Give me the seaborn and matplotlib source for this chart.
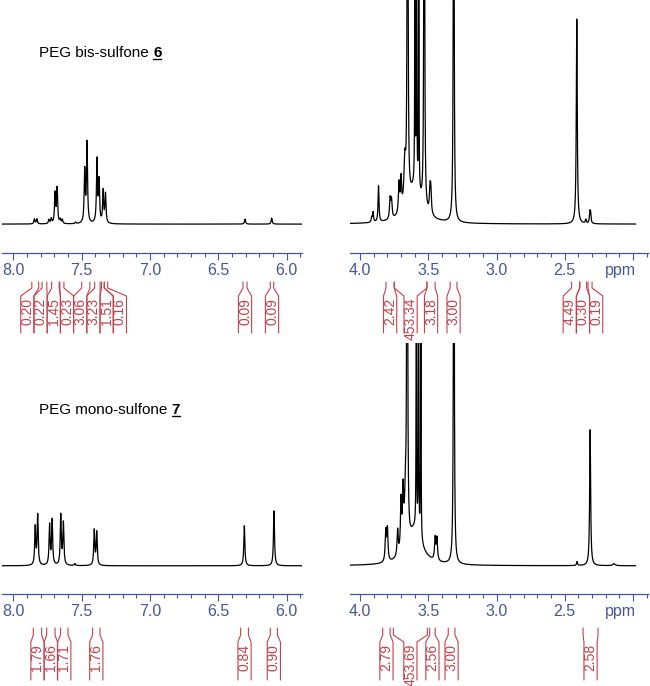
import numpy as np
import pandas as pd
import seaborn as sns
import matplotlib.pyplot as plt
from matplotlib.ticker import MultipleLocator, FuncFormatter
from matplotlib.lines import Line2D

# ---- peaks: shift (ppm), height (px over baseline), half width (ppm)
bis_arom_shift = [7.846, 7.828, 7.740, 7.723, 7.695, 7.680, 7.657, 7.642, 7.545,
                  7.478, 7.461, 7.388, 7.373, 7.343, 7.326, 6.305, 6.110]
bis_arom_height = [5, 5, 4, 5, 30, 35, 4, 4, 1.5, 52, 80, 63, 41, 32, 29, 5, 6]
bis_arom_width = [0.0045] * 17

bis_alk_shift = [3.915, 3.905, 3.865, 3.780, 3.770, 3.715, 3.700, 3.672, 3.652,
                 3.598, 3.586, 3.570, 3.530, 3.600, 3.488, 3.482,
                 3.314, 2.412, 2.346, 2.316, 2.311]
bis_alk_height = [5, 10, 36, 20, 18, 30, 32, 45, 900, 420, 400, 380, 800,
                  35, 22, 22, 600, 205, 4, 10, 9]
bis_alk_width = [0.004, 0.004, 0.004, 0.005, 0.005, 0.005, 0.005, 0.008, 0.0025,
                 0.0015, 0.0015, 0.0015, 0.0025, 0.06, 0.005, 0.005,
                 0.003, 0.0042, 0.004, 0.004, 0.004]

mono_arom_shift = [7.840, 7.822, 7.735, 7.716, 7.653, 7.634, 7.550, 7.408, 7.390,
                   6.310, 6.093]
mono_arom_height = [38, 50, 40, 45, 50, 42, 2, 35, 33, 40, 55]
mono_arom_width = [0.0045] * 11

mono_alk_shift = [3.812, 3.800, 3.725, 3.700, 3.685, 3.668, 3.655, 3.588, 3.572,
                  3.555, 3.600, 3.450, 3.437, 3.313, 2.410, 2.314, 2.140]
mono_alk_height = [30, 32, 26, 50, 55, 45, 900, 420, 400, 400, 35, 22, 22,
                   600, 4, 136, 2]
mono_alk_width = [0.005, 0.005, 0.005, 0.005, 0.005, 0.008, 0.0025, 0.0015, 0.0015,
                  0.0015, 0.06, 0.005, 0.005, 0.003, 0.004, 0.0042, 0.01]

# ---- integrals: region start / end (ppm) and value
bis_arom_int_from = [7.865, 7.790, 7.720, 7.660, 7.500, 7.405, 7.355, 7.335, 6.320, 6.120]
bis_arom_int_to = [7.815, 7.755, 7.665, 7.630, 7.440, 7.365, 7.335, 7.310, 6.290, 6.095]
bis_arom_int_label = ["0.20", "0.22", "1.45", "0.23", "3.06", "3.23", "1.51", "0.16",
                      "0.09", "0.09"]

bis_alk_int_from = [3.81, 3.75, 3.51, 3.34, 2.45, 2.39, 2.33]
bis_alk_int_to = [3.75, 3.51, 3.45, 3.29, 2.39, 2.34, 2.30]
bis_alk_int_label = ["2.42", "453.34", "3.18", "3.00", "4.49", "0.30", "0.19"]

mono_arom_int_from = [7.854, 7.756, 7.655, 7.420, 6.337, 6.120]
mono_arom_int_to = [7.793, 7.695, 7.600, 7.366, 6.280, 6.068]
mono_arom_int_label = ["1.79", "1.66", "1.71", "1.76", "0.84", "0.90"]

mono_alk_int_from = [3.834, 3.756, 3.490, 3.354, 2.366]
mono_alk_int_to = [3.780, 3.507, 3.450, 3.305, 2.256]
mono_alk_int_label = ["2.79", "453.69", "2.56", "3.00", "2.58"]

W, H = 650, 686
BLUE = "#46559a"
RED = "#c4424b"
GAP = 13.2 / 136.5  # label box width in ppm

sns.set_style("ticks")
plt.rcParams["font.family"] = ["Liberation Sans", "DejaVu Sans"]

fig = plt.figure(figsize=(W / 100, H / 100), dpi=100)


def spectrum(shift, height, width, hi, lo):
    x = np.linspace(hi, lo, 9000)
    y = np.zeros_like(x)
    for s, h, w in zip(shift, height, width):
        y += h * w ** 2 / ((x - s) ** 2 + w ** 2)
    return pd.DataFrame({"ppm": x, "intensity": y})


def spread(mids):
    # push label boxes apart so they do not overlap (left to right = falling ppm)
    order = np.argsort(-np.array(mids))
    pos = [-mids[i] for i in order]
    blocks = []
    for p in pos:
        blocks.append([p, [p]])
        while len(blocks) > 1:
            s0, m0 = blocks[-2]
            s1, m1 = blocks[-1]
            if s0 + len(m0) * GAP > s1 + 1e-9:
                m = m0 + m1
                blocks[-2:] = [[np.mean(m) - (len(m) - 1) * GAP / 2, m]]
            else:
                break
    flat = [s + k * GAP for s, m in blocks for k in range(len(m))]
    out = [0.0] * len(mids)
    for i, v in zip(order, flat):
        out[i] = -v
    return out


def panel(x0, x1, y_top, y_axis, xl, data_lo, peaks, ints, geom, ppm_label=False):
    ax = fig.add_axes([x0 / W, 1 - y_axis / H, (x1 - x0) / W, (y_axis - y_top) / H])
    df = spectrum(*peaks, xl[0], data_lo)
    sns.lineplot(data=df, x="ppm", y="intensity", ax=ax, color="black", lw=0.9,
                 estimator=None, sort=False)
    ax.set_xlim(*xl)
    ax.set_ylim(-28.5, (y_axis - y_top) - 28.5)
    ax.set_xlabel("")
    ax.set_ylabel("")
    ax.set_yticks([])
    for s in ["left", "top", "right"]:
        ax.spines[s].set_visible(False)
    ax.spines["bottom"].set_color(BLUE)
    ax.spines["bottom"].set_linewidth(0.9)
    ax.xaxis.set_major_locator(MultipleLocator(0.5))
    ax.xaxis.set_minor_locator(MultipleLocator(0.1))
    ax.xaxis.set_major_formatter(FuncFormatter(
        lambda v, _: "" if (ppm_label and abs(v - 2.0) < 1e-6) else f"{v:.1f}"))
    ax.tick_params(axis="x", which="major", length=4.8, width=0.8, color=BLUE,
                   labelcolor=BLUE, labelsize=11.5, pad=2.5, direction="out")
    ax.tick_params(axis="x", which="minor", length=3, width=0.8, color=BLUE,
                   direction="out")
    ax.patch.set_alpha(0)
    if ppm_label:
        off = -(4.8 + 2.5) / 72 * 100 / (y_axis - y_top)
        ax.text(2.09, off, "ppm", transform=ax.get_xaxis_transform(), ha="center",
                va="top", color=BLUE, fontsize=11.5)

    # integral brackets under the axis
    y0, y1, y2, y3, yt = geom
    iax = fig.add_axes([x0 / W, 1 - (y_axis + 92) / H, (x1 - x0) / W, 92 / H])
    iax.set_xlim(*xl)
    iax.set_ylim(y_axis + 92, y_axis)
    iax.axis("off")
    a_list, b_list, labels = ints
    mids = [(a + b) / 2 for a, b in zip(a_list, b_list)]
    centers = spread(mids)
    h = GAP / 2
    for a, b, lab, c in zip(a_list, b_list, labels, centers):
        iax.plot([a, a, c + h, c + h], [y0, y1, y2, y3], color=RED, lw=0.8, clip_on=False)
        iax.plot([b, b, c - h, c - h], [y0, y1, y2, y3], color=RED, lw=0.8, clip_on=False)
        iax.text(c, yt, lab, rotation=90, ha="center", va="top", fontsize=10,
                 color=RED)
    return ax


top_geom = (282, 288, 296, 333, 298)
bot_geom = (628, 635, 642, 680, 644)

ax1 = panel(2, 302, 0, 252.6, (8.083, 5.888), 5.888,
            (bis_arom_shift, bis_arom_height, bis_arom_width),
            (bis_arom_int_from, bis_arom_int_to, bis_arom_int_label), top_geom)
ax2 = panel(350, 648, 0, 252.6, (4.074, 1.890), 1.98,
            (bis_alk_shift, bis_alk_height, bis_alk_width),
            (bis_alk_int_from, bis_alk_int_to, bis_alk_int_label), top_geom,
            ppm_label=True)
ax3 = panel(2, 302, 343, 594.3, (8.083, 5.888), 5.888,
            (mono_arom_shift, mono_arom_height, mono_arom_width),
            (mono_arom_int_from, mono_arom_int_to, mono_arom_int_label), bot_geom)
ax4 = panel(350, 648, 343, 594.3, (4.074, 1.890), 1.98,
            (mono_alk_shift, mono_alk_height, mono_alk_width),
            (mono_alk_int_from, mono_alk_int_to, mono_alk_int_label), bot_geom,
            ppm_label=True)


def title(x_px, y_px, text, num):
    t1 = fig.text(x_px / W, 1 - y_px / H, text + " ", fontsize=11, ha="left",
                  va="center", color="black")
    t2 = ax1.annotate(num, xy=(1, 0), xycoords=t1, ha="left", va="bottom",
                      fontsize=11, fontweight="bold", color="black",
                      annotation_clip=False)
    return t2


n1 = title(39, 53, "PEG bis-sulfone", "6")
n2 = title(39, 410, "PEG mono-sulfone", "7")

fig.canvas.draw()
for t in (n1, n2):
    bb = t.get_window_extent()
    y = bb.y0 + 1.5
    fig.add_artist(Line2D([bb.x0 / fig.bbox.width, bb.x1 / fig.bbox.width],
                          [y / fig.bbox.height, y / fig.bbox.height],
                          transform=fig.transFigure, color="black", lw=1.0))

fig.savefig("out.png", dpi=100, facecolor="white")
